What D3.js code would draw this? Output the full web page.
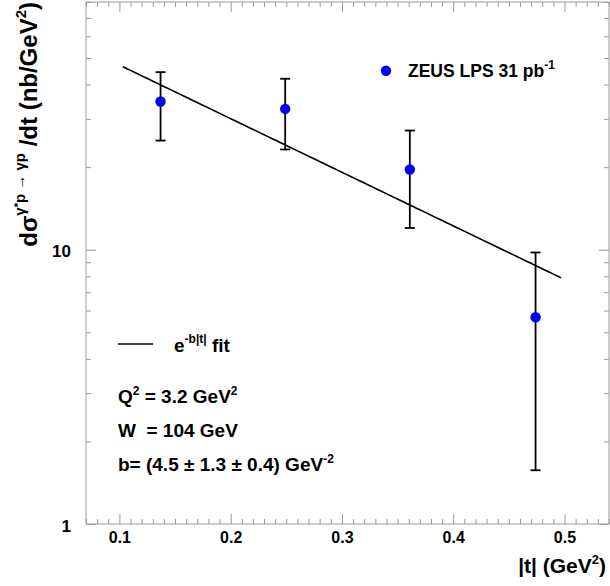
<!DOCTYPE html>
<html>
<head>
<meta charset="utf-8">
<script src="https://cdn.jsdelivr.net/npm/d3@7"></script>
<style>
  html, body { margin: 0; padding: 0; background: #fff; }
  svg { display: block; }
  text { font-family: "Liberation Sans", Arial, Helvetica, sans-serif; font-weight: bold; fill: #000; }
</style>
</head>
<body>
<svg id="chart" width="610" height="586"></svg>
<script>
// ZEUS LPS DVCS |t| distribution
const tValues   = [0.137, 0.249, 0.361, 0.474];
const xsecValues = [34.7, 32.6, 19.6, 5.67];
const xsecErrors = [9.7, 9.4, 7.6, 4.1];

// exponential fit  A * exp(-b|t|)
const fitSlope = 4.5;
const fitNorm = 73.9;
const fitRange = [0.103, 0.497];

const xMajorTicks = [0.1, 0.2, 0.3, 0.4, 0.5];
const yMajorTicks = [1, 10];
const yMinorTicks = [2, 3, 4, 5, 6, 7, 8, 9, 20, 30, 40, 50, 60, 70, 80];

const svg = d3.select("#chart");
const frame = { left: 86, right: 609, top: 2, bottom: 524 };

const x = d3.scaleLinear().domain([0.07, 0.54]).range([frame.left, frame.right]);
const y = d3.scaleLog().domain([1, 80]).range([frame.bottom, frame.top]);

// minor ticks every 0.01 between the labelled ones
const xMinor = d3.range(7, 55).map(d => d / 100).filter(v => Math.abs(v * 10 - Math.round(v * 10)) > 1e-6);

const axisColor = "#9a9a9a";

function styleAxis(g) {
  g.select(".domain").remove();
  g.selectAll(".tick line").attr("stroke", axisColor).attr("stroke-width", 1);
}

// frame
svg.append("rect")
  .attr("x", frame.left).attr("y", frame.top)
  .attr("width", frame.right - frame.left).attr("height", frame.bottom - frame.top)
  .attr("fill", "none").attr("stroke", axisColor).attr("stroke-width", 1);

// bottom axis
svg.append("g").attr("transform", `translate(0,${frame.bottom})`)
  .call(d3.axisBottom(x).tickValues(xMinor).tickSize(-5).tickFormat(""))
  .call(styleAxis);
svg.append("g").attr("transform", `translate(0,${frame.bottom})`)
  .call(d3.axisBottom(x).tickValues(xMajorTicks).tickSize(-10).tickPadding(8).tickFormat(d3.format(".1f")))
  .call(styleAxis)
  .call(g => g.selectAll(".tick text").attr("font-size", 16).attr("font-family", null).attr("fill", "#000"));

// top axis
svg.append("g").attr("transform", `translate(0,${frame.top})`)
  .call(d3.axisTop(x).tickValues(xMinor).tickSize(-5).tickFormat(""))
  .call(styleAxis);
svg.append("g").attr("transform", `translate(0,${frame.top})`)
  .call(d3.axisTop(x).tickValues(xMajorTicks).tickSize(-10).tickFormat(""))
  .call(styleAxis);

// left axis
svg.append("g").attr("transform", `translate(${frame.left},0)`)
  .call(d3.axisLeft(y).tickValues(yMinorTicks).tickSize(-5).tickFormat(""))
  .call(styleAxis);
svg.append("g").attr("transform", `translate(${frame.left},0)`)
  .call(d3.axisLeft(y).tickValues(yMajorTicks).tickSize(-10).tickPadding(15).tickFormat(d3.format("d")))
  .call(styleAxis)
  .call(g => g.selectAll(".tick text").attr("font-size", 17).attr("font-family", null).attr("fill", "#000").attr("dy", "0.42em"));

// right axis
svg.append("g").attr("transform", `translate(${frame.right},0)`)
  .call(d3.axisRight(y).tickValues(yMinorTicks).tickSize(-5).tickFormat(""))
  .call(styleAxis);
svg.append("g").attr("transform", `translate(${frame.right},0)`)
  .call(d3.axisRight(y).tickValues(yMajorTicks).tickSize(-10).tickFormat(""))
  .call(styleAxis);

// fit curve
const fitPts = d3.range(0, 101).map(i => {
  const t = fitRange[0] + (fitRange[1] - fitRange[0]) * i / 100;
  return [t, fitNorm * Math.exp(-fitSlope * t)];
});
svg.append("path")
  .datum(fitPts)
  .attr("d", d3.line().x(d => x(d[0])).y(d => y(d[1])))
  .attr("fill", "none").attr("stroke", "#000").attr("stroke-width", 1.6);

// data points with error bars
const points = tValues.map((t, i) => ({ t, v: xsecValues[i], e: xsecErrors[i] }));
const pg = svg.append("g");
const capHalf = 5;
points.forEach(p => {
  const cx = x(p.t), y0 = y(p.v + p.e), y1 = y(p.v - p.e);
  pg.append("line").attr("x1", cx).attr("x2", cx).attr("y1", y0).attr("y2", y1)
    .attr("stroke", "#000").attr("stroke-width", 1.8);
  [y0, y1].forEach(yy => pg.append("line")
    .attr("x1", cx - capHalf).attr("x2", cx + capHalf).attr("y1", yy).attr("y2", yy)
    .attr("stroke", "#000").attr("stroke-width", 1.8));
});
pg.selectAll("circle").data(points).join("circle")
  .attr("cx", d => x(d.t)).attr("cy", d => y(d.v)).attr("r", 5.2)
  .attr("fill", "#0000ff");

// legend: data
svg.append("circle").attr("cx", 386).attr("cy", 70.7).attr("r", 5.2).attr("fill", "#0000ff");
const leg = svg.append("text").attr("x", 408).attr("y", 77).attr("font-size", 17.5);
leg.append("tspan").text("ZEUS LPS 31 pb");
leg.append("tspan").attr("font-size", 12).attr("dy", -8).text("-1");

// legend: fit
svg.append("line").attr("x1", 118).attr("x2", 153).attr("y1", 344).attr("y2", 344)
  .attr("stroke", "#000").attr("stroke-width", 1.6);
const fitLbl = svg.append("text").attr("x", 174).attr("y", 352).attr("font-size", 19);
fitLbl.append("tspan").text("e");
fitLbl.append("tspan").attr("font-size", 12).attr("dy", -9).text("-b|t|");
fitLbl.append("tspan").attr("dy", 9).text(" fit");

// fit info
const q2 = svg.append("text").attr("x", 118).attr("y", 403).attr("font-size", 19);
q2.append("tspan").text("Q");
q2.append("tspan").attr("font-size", 12).attr("dy", -8).text("2");
q2.append("tspan").attr("dy", 8).text(" = 3.2 GeV");
q2.append("tspan").attr("font-size", 12).attr("dy", -8).text("2");

svg.append("text").attr("x", 118).attr("y", 437).attr("font-size", 19)
  .attr("xml:space", "preserve").style("white-space", "pre").text("W  = 104 GeV");

const bl = svg.append("text").attr("x", 118).attr("y", 471).attr("font-size", 19);
bl.append("tspan").text("b= (4.5 \u00b1 1.3 \u00b1 0.4) GeV");
bl.append("tspan").attr("font-size", 12).attr("dy", -8).text("-2");

// x axis title
const xt = svg.append("text").attr("x", 606).attr("y", 573).attr("font-size", 21).attr("text-anchor", "end");
xt.append("tspan").text("|t| (GeV");
xt.append("tspan").attr("font-size", 13).attr("dy", -9).text("2");
xt.append("tspan").attr("dy", 9).text(")");

// y axis title
const yt = svg.append("text").attr("transform", "translate(37,2) rotate(-90)")
  .attr("text-anchor", "end").attr("font-size", 24);
yt.append("tspan").text("d\u03c3");
yt.append("tspan").attr("font-size", 15).attr("dy", -12).text("\u03b3");
yt.append("tspan").attr("font-size", 11).attr("dy", -3).text("*");
yt.append("tspan").attr("font-size", 15).attr("dy", 3).text("p \u2192 \u03b3p");
yt.append("tspan").attr("dy", 12).text(" /dt (nb/GeV");
yt.append("tspan").attr("font-size", 15).attr("dy", -11).text("2");
yt.append("tspan").attr("dy", 11).text(")");
</script>
</body>
</html>
